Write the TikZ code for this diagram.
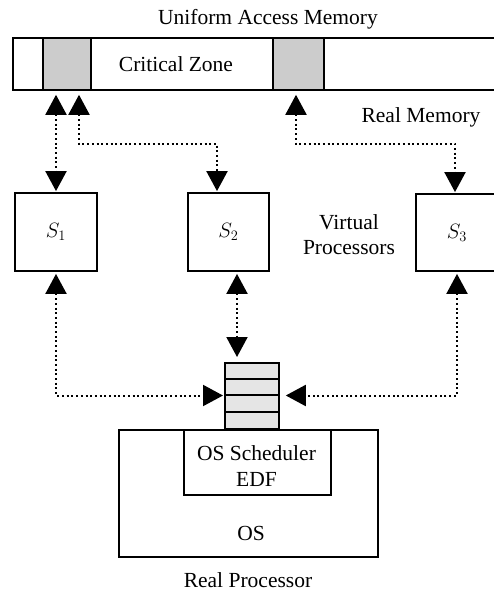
\documentclass[tikz,border=0pt]{standalone}
\usepackage{fontspec}
\setmainfont{Liberation Serif}
\usetikzlibrary{arrows.meta,calc}
\begin{document}
\begin{tikzpicture}[x=1pt,y=-1pt,
  box/.style={draw,line width=1.8pt,inner sep=0pt},
  lbl/.style={font=\fontsize{21.5}{25}\selectfont,inner sep=0pt},
  conn/.style={line width=2pt,dash pattern=on 2pt off 2.7pt,
    {Triangle[width=21pt,length=20pt]}-{Triangle[width=21pt,length=20pt]}},
  ]
\clip (0,0) rectangle (494,592);
% memory bar
\node[box,minimum width=490pt,minimum height=52pt,anchor=north west] (mem) at (12,37) {};
\node[box,fill=black!20,minimum width=48pt,minimum height=52pt,anchor=north west] (g1) at (42,37) {};
\node[box,fill=black!20,minimum width=51pt,minimum height=52pt,anchor=north west] (g2) at (272,37) {};
\node[lbl] (cz) at (176,64) {Critical Zone};
\node[lbl] (uam) at (268,19) {Uniform Access Memory};
\node[lbl] (rm) at (421,117) {Real Memory};
% virtual processors
\node[box,lbl,draw,line width=1.8pt,minimum width=82pt,minimum height=78pt] (s1) at (56,232) {\(S_1\)};
\node[box,lbl,draw,line width=1.8pt,minimum width=81pt,minimum height=78pt] (s2) at (228.5,232) {\(S_2\)};
\node[box,lbl,draw,line width=1.8pt,minimum width=82pt,minimum height=77pt] (s3) at (457,232.5) {\(S_3\)};
\node[lbl] (vp1) at (349,222) {Virtual};
\node[lbl] (vp2) at (349,248) {Processors};
% queue
\node[box,fill=black!10,minimum width=54pt,minimum height=66pt,anchor=north west] (q) at (224,362) {};
\foreach \yy in {17,33,50}{
  \draw[line width=1.8pt] ($(q.north west)+(0,\yy)$) -- ($(q.north east)+(0,\yy)$);
}
% OS
\node[box,minimum width=259pt,minimum height=127pt,anchor=north west] (os) at (118,429) {};
\node[box,fill=white,minimum width=147pt,minimum height=65pt,anchor=north west] (sch) at (183,429) {};
\node[lbl,align=center] (schl) at (256.5,466) {OS Scheduler\\[1pt]EDF};
\node[lbl] (osl) at (251,533) {OS};
\node[lbl] (rp) at (248,580) {Real Processor};
% upper connectors
\coordinate (m1) at ($(mem.south west)+(44,0)$);
\coordinate (m2) at ($(mem.south west)+(67,0)$);
\coordinate (m3) at ($(mem.south west)+(284,0)$);
\coordinate (s2in) at ($(s2.north)+(-11.5,0)$);
\coordinate (s3in) at ($(s3.north)+(-2,0)$);
\draw[conn,shorten <=4pt,shorten >=1pt] (m1) -- (m1 |- s1.north);
\draw[conn,shorten <=4pt,shorten >=1pt] (m2) -- ($(m2)+(0,53)$) -| (s2in);
\draw[conn,shorten <=4pt,shorten >=1pt] (m3) -- ($(m3)+(0,53)$) -| (s3in);
% lower connectors
\coordinate (qin) at ($(q.north west)+(13,0)$);
\coordinate (qw) at ($(q.north west)+(0,33.5)$);
\coordinate (qe) at ($(q.north east)+(0,33.5)$);
\draw[conn,shorten <=2pt,shorten >=1pt] (s1.south) |- (qw);
\draw[conn,shorten <=2pt,shorten >=5pt] (s2.south -| qin) -- (qin);
\draw[conn,shorten <=2pt,shorten >=6pt] (s3.south) |- (qe);
\end{tikzpicture}
\end{document}
